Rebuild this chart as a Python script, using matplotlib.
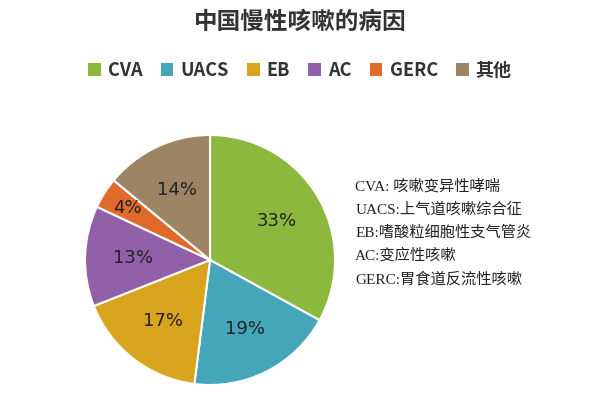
import matplotlib
matplotlib.use("Agg")
import matplotlib.pyplot as plt
from matplotlib.patches import Patch
import numpy as np

plt.rcParams['font.family'] = ['Noto Sans CJK SC', 'DejaVu Sans']

labels = ["CVA", "UACS", "EB", "AC", "GERC", "其他"]
values = [33, 19, 17, 13, 4, 14]
colors = ["#8CB83E", "#45A6BA", "#D9A41E", "#9160A8", "#E06A2C", "#9C8465"]
notes = ["CVA: 咳嗽变异性哮喘", "UACS:上气道咳嗽综合征", "EB:嗜酸粒细胞性支气管炎",
         "AC:变应性咳嗽", "GERC:胃食道反流性咳嗽"]

fig = plt.figure(figsize=(6, 4), dpi=100)
ax = fig.add_axes([0.1417, 0.0375, 0.4167, 0.625])
wedges, texts = ax.pie(values, colors=colors, startangle=90, counterclock=False,
                       wedgeprops=dict(edgecolor="white", linewidth=1.5))
for w, v in zip(wedges, values):
    ang = np.deg2rad((w.theta1 + w.theta2) / 2)
    r = 0.62 if v > 5 else 0.78
    ax.text(r * np.cos(ang), r * np.sin(ang), f"{v}%", ha="center", va="center",
            fontsize=13, color="#222222", family="DejaVu Sans")
ax.set_xlim(-1.0, 1.0)
ax.set_ylim(-1.0, 1.0)
ax.set_aspect("equal")

fig.text(0.5, 0.945, "中国慢性咳嗽的病因", ha="center", va="center", fontsize=17,
         fontweight="bold", color="#333333")
handles = [Patch(facecolor=c, label=l) for c, l in zip(colors, labels)]
leg = fig.legend(handles=handles, loc="center", bbox_to_anchor=(0.5, 0.825), ncol=6, frameon=False,
                 fontsize=13, handlelength=0.7, handleheight=0.7, columnspacing=1.0, handletextpad=0.4)
for t in leg.get_texts():
    t.set_fontweight("bold")
    t.set_color("#333333")

for i, t in enumerate(notes):
    fig.text(0.592, 0.535 - i * 0.058, t, ha="left", va="center", fontsize=11, color="#222222",
             family=['Liberation Serif', 'Noto Sans CJK SC'])

fig.savefig("out.png", facecolor="white")
